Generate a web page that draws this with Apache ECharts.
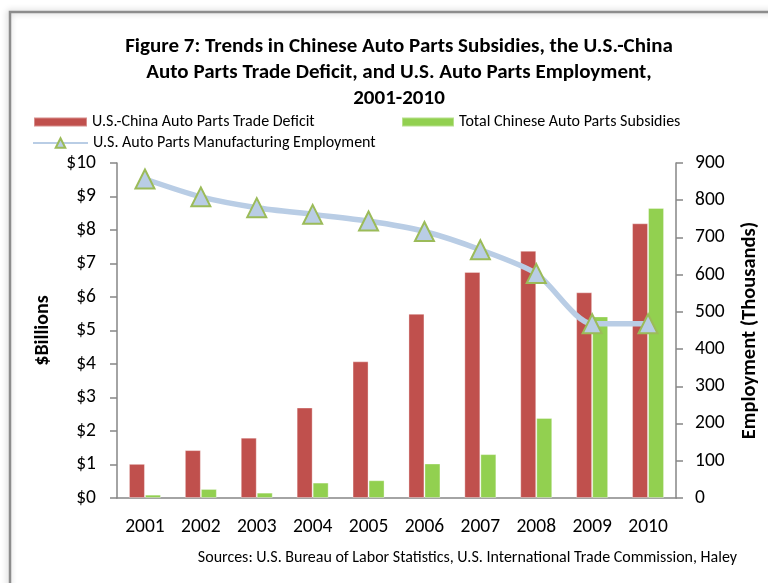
<!DOCTYPE html>
<html>
<head>
<meta charset="utf-8">
<style>
  html, body { margin: 0; padding: 0; background: #fff; }
  #chart { width: 768px; height: 583px; }
</style>
<script src="https://cdn.jsdelivr.net/npm/echarts@6/dist/echarts.min.js"></script>
</head>
<body>
<div id="chart"></div>
<script>
// Years on the category axis
const years = ['2001', '2002', '2003', '2004', '2005', '2006', '2007', '2008', '2009', '2010'];
// U.S.-China auto parts trade deficit, $ billions
const tradeDeficit = [1.02, 1.43, 1.80, 2.70, 4.08, 5.50, 6.75, 7.38, 6.14, 8.20];
// Total Chinese auto parts subsidies, $ billions
const subsidies = [0.10, 0.27, 0.16, 0.46, 0.53, 1.03, 1.31, 2.39, 5.42, 8.66];
// U.S. auto parts manufacturing employment, thousands
const employment = [857, 809, 780, 762, 744, 716, 667, 603, 468, 468];

const FONT = 'Carlito, Lato, sans-serif';
const AXIS_GRAY = '#868686';
const LEGEND_TEXT = { fontFamily: FONT, fontSize: 16, color: '#000' };

const chart = echarts.init(document.getElementById('chart'), null, { renderer: 'canvas' });

chart.setOption({
  animation: false,
  backgroundColor: '#ffffff',
  textStyle: { fontFamily: FONT, color: '#000' },
  title: {
    text: 'Figure 7: Trends in Chinese Auto Parts Subsidies, the U.S.-China\nAuto Parts Trade Deficit, and U.S. Auto Parts Employment,\n2001-2010',
    left: 394,
    top: 29,
    textAlign: 'center',
    textStyle: { fontFamily: FONT, fontWeight: 'bold', fontSize: 21, lineHeight: 26, color: '#000' }
  },
  legend: [
    {
      data: ['U.S.-China Auto Parts Trade Deficit'],
      left: 33, top: 114, padding: 0,
      itemWidth: 53, itemHeight: 9, icon: 'rect',
      textStyle: LEGEND_TEXT
    },
    {
      data: ['Total Chinese Auto Parts Subsidies'],
      left: 401, top: 114, padding: 0,
      itemWidth: 52, itemHeight: 9, icon: 'rect',
      textStyle: LEGEND_TEXT
    },
    {
      data: ['U.S. Auto Parts Manufacturing Employment'],
      left: 32, top: 135, padding: 0,
      itemWidth: 55, itemHeight: 12,
      textStyle: LEGEND_TEXT
    }
  ],
  grid: { left: 117, right: 90, top: 163, bottom: 85, containLabel: false },
  xAxis: {
    type: 'category',
    data: years,
    boundaryGap: true,
    axisLine: { lineStyle: { color: AXIS_GRAY, width: 1.5 } },
    axisTick: { show: false },
    axisLabel: { fontFamily: FONT, fontSize: 19.5, color: '#000', margin: 19 }
  },
  yAxis: [
    {
      type: 'value',
      min: 0, max: 10, interval: 1,
      name: '$Billions',
      nameLocation: 'middle',
      nameRotate: 90,
      nameGap: 64,
      nameTextStyle: { fontFamily: FONT, fontWeight: 'bold', fontSize: 20, color: '#000' },
      axisLine: { show: true, lineStyle: { color: AXIS_GRAY, width: 1.5 } },
      axisTick: { show: true, length: 7, lineStyle: { color: AXIS_GRAY, width: 1.5 } },
      splitLine: { show: false },
      axisLabel: {
        fontFamily: FONT, fontSize: 19.5, color: '#000', margin: 21,
        formatter: v => '$' + v
      }
    },
    {
      type: 'value',
      min: 0, max: 900, interval: 100,
      position: 'right',
      name: 'Employment (Thousands)',
      nameLocation: 'middle',
      nameRotate: 90,
      nameGap: 63,
      nameTextStyle: { fontFamily: FONT, fontWeight: 'bold', fontSize: 20.5, color: '#000' },
      axisLine: { show: true, lineStyle: { color: AXIS_GRAY, width: 1.5 } },
      axisTick: { show: true, length: 7, lineStyle: { color: AXIS_GRAY, width: 1.5 } },
      splitLine: { show: false },
      axisLabel: { fontFamily: FONT, fontSize: 19.5, color: '#000', margin: 19 }
    }
  ],
  series: [
    {
      name: 'U.S.-China Auto Parts Trade Deficit',
      type: 'bar',
      yAxisIndex: 0,
      data: tradeDeficit,
      barWidth: 16,
      barGap: '0%',
      itemStyle: { color: '#c0504d', borderColor: 'rgba(255,255,255,0.35)', borderWidth: 1 }
    },
    {
      name: 'Total Chinese Auto Parts Subsidies',
      type: 'bar',
      yAxisIndex: 0,
      data: subsidies,
      barWidth: 16,
      barGap: '0%',
      itemStyle: { color: '#92d050', borderColor: 'rgba(255,255,255,0.35)', borderWidth: 1 }
    },
    {
      name: 'U.S. Auto Parts Manufacturing Employment',
      type: 'line',
      yAxisIndex: 1,
      data: employment,
      smooth: 0.25,
      z: 5,
      lineStyle: { color: '#b9cde5', width: 5.5 },
      symbol: 'triangle',
      symbolSize: 19,
      itemStyle: { color: '#b9cde5', borderColor: '#9bbb59', borderWidth: 2 }
    }
  ],
  graphic: [
    {
      type: 'rect',
      z: 100,
      silent: true,
      shape: { x: 10, y: 12, width: 820, height: 640 },
      style: {
        fill: 'none',
        stroke: '#8c8c8c',
        lineWidth: 2.5,
        shadowBlur: 6,
        shadowColor: 'rgba(0,0,0,0.25)',
        shadowOffsetX: -1
      }
    },
    {
      type: 'text',
      right: 31,
      top: 550,
      style: {
        text: 'Sources: U.S. Bureau of Labor Statistics, U.S. International Trade Commission, Haley',
        fontFamily: FONT,
        fontSize: 16,
        fill: '#000'
      }
    }
  ]
});
</script>
</body>
</html>
